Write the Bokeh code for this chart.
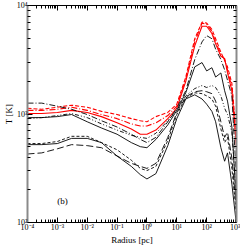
from bokeh.plotting import figure
from bokeh.models import LogAxis, FixedTicker, CustomJSTickFormatter
from bokeh.embed import file_html
from bokeh.resources import INLINE
from bokeh.core.properties import value

# ---- data ----
radius = [1e-4, 3e-4, 1e-3, 3e-3, 1e-2, 3e-2, 0.1, 0.3, 0.6, 1, 2, 5, 10, 20,
          40, 70, 100, 150, 200, 300, 400, 500, 700, 1000]

red_dashed = [1130, 1105, 1155, 1205, 1155, 1057, 989, 906, 867, 848, 946, 1033,
              1232, 2190, 4940, 7030, 6880, 6030, 4940, 3710, 3110, 2720, 1915, 609]
red_dashdot = [1080, 1080, 1105, 1155, 1080, 989, 906, 811, 776, 776, 829, 968,
               1180, 2090, 4620, 6880, 6730, 5770, 4620, 3550, 3180, 2550, 1755, 545]
red_solid = [1010, 1010, 1033, 1080, 1033, 946, 829, 727, 651, 651, 711, 906,
             1130, 2000, 4240, 6440, 6440, 5520, 4430, 3400, 3250, 2390, 1640, 489]

blk_dashdot = [1260, 1260, 1180, 1105, 989, 867, 759, 651, 583, 545, 609, 848,
               1130, 1640, 3180, 4620, 5280, 4940, 3960, 3180, 2550, 2047, 1470, 252]
blk_solid_hi = [926, 926, 946, 989, 848, 743, 651, 545, 500, 489, 583, 794,
                1080, 1570, 2720, 2980, 2495, 2670, 2190, 2390, 1640, 1315, 759, 145]
blk_dashdotdot = [906, 926, 968, 1010, 926, 811, 711, 636, 609, 596, 665, 867,
                  1080, 1470, 1715, 1830, 1755, 1830, 1755, 1470, 1130, 989, 680, 162]
blk_solid_lo = [522, 522, 534, 596, 596, 545, 410, 329, 276, 252, 282, 511,
                906, 1375, 1503, 1375, 1232, 1057, 848, 489, 367, 438, 226, 94]
blk_dashed = [534, 534, 558, 623, 623, 545, 468, 375, 315, 301, 329, 570,
              989, 1405, 1570, 1540, 1470, 1375, 1180, 727, 545, 609, 315, 117]
blk_longdash = [428, 438, 478, 522, 511, 489, 410, 351, 329, 315, 351, 609,
                1033, 1438, 1605, 1640, 1605, 1540, 1315, 848, 609, 680, 392, 130]

x_major = [1e-4, 1e-3, 1e-2, 1e-1, 1, 10, 100, 1000]
y_major = [1e2, 1e3, 1e4]
panel_label = "(b)"
panel_label_pos = (1.5e-3, 159)

# ---- figure ----
FONT = "Liberation Serif"
p = figure(width=240, height=247, x_axis_type="log", y_axis_type="log",
           x_range=(1e-4, 1e3), y_range=(1e2, 1e4),
           output_backend="svg", toolbar_location=None,
           min_border_left=0, min_border_right=0, min_border_top=0,
           min_border_bottom=0)
p.outline_line_color = None
p.grid.visible = False
p.background_fill_color = "white"

x_minor = [m * 10.0 ** k for k in range(-4, 3) for m in range(2, 10)]
y_minor = [m * 10.0 ** k for k in range(2, 4) for m in range(2, 10)]

fmt = CustomJSTickFormatter(code="""
const e = Math.round(Math.log10(tick));
const m = {'-':'\u207b','0':'\u2070','1':'\u00b9','2':'\u00b2','3':'\u00b3','4':'\u2074','5':'\u2075'};
return '10' + String(e).split('').map(c => m[c]).join('');
""")
blank = CustomJSTickFormatter(code="return ' ';")

def style(ax, ticks, minor, labels, line_color, line_width):
    ax.ticker = FixedTicker(ticks=ticks, minor_ticks=minor)
    ax.major_tick_in = 5
    ax.major_tick_out = 0
    ax.minor_tick_in = 3
    ax.minor_tick_out = 0
    ax.major_tick_line_color = "black"
    ax.minor_tick_line_color = "black"
    ax.axis_line_color = line_color
    ax.axis_line_width = line_width
    if labels:
        ax.formatter = fmt
        ax.major_label_text_font = FONT
        ax.major_label_text_font_size = "8px"
        ax.major_label_text_color = "black"
        ax.major_label_standoff = 0
        ax.axis_label_text_font = FONT
        ax.axis_label_text_font_style = "normal"
        ax.axis_label_text_font_size = "9px"
        ax.axis_label_text_color = "black"
        ax.axis_label_standoff = 0
    else:
        ax.formatter = blank
        ax.major_label_text_font_size = "2px"
        ax.major_label_standoff = 0

xa = p.xaxis[0]
xa.axis_label = "Radius [pc]"
style(xa, x_major, x_minor, True, "black", 1)
ya = p.yaxis[0]
ya.axis_label = "T [K]"
style(ya, y_major, y_minor, True, "#8a8a8a", 2)

top = LogAxis()
style(top, x_major, x_minor, False, "black", 1)
p.add_layout(top, "above")
right = LogAxis()
style(right, y_major, y_minor, False, "#8a8a8a", 2)
p.add_layout(right, "right")

series = [
    (red_dashed, "red", "4 2", 1.1),
    (red_dashdot, "red", "6 2 1 2", 1.1),
    (red_solid, "red", "solid", 1.1),
    (blk_dashdot, "black", "6 2 1 2", 0.9),
    (blk_solid_hi, "black", "solid", 0.9),
    (blk_dashdotdot, "black", "4 2 1 2 1 2", 0.9),
    (blk_solid_lo, "black", "solid", 0.9),
    (blk_dashed, "black", "3 2", 0.9),
    (blk_longdash, "black", "7 3", 0.9),
]
for ys, col, dash, lw in series:
    p.line(radius, ys, line_color=col, line_dash=dash, line_width=lw)

p.text(x=[panel_label_pos[0]], y=[panel_label_pos[1]], text=[panel_label],
       text_font=value(FONT), text_font_size="9px", text_align="center",
       text_baseline="middle", text_color="black")

open("out.html", "w").write(file_html(p, INLINE))
